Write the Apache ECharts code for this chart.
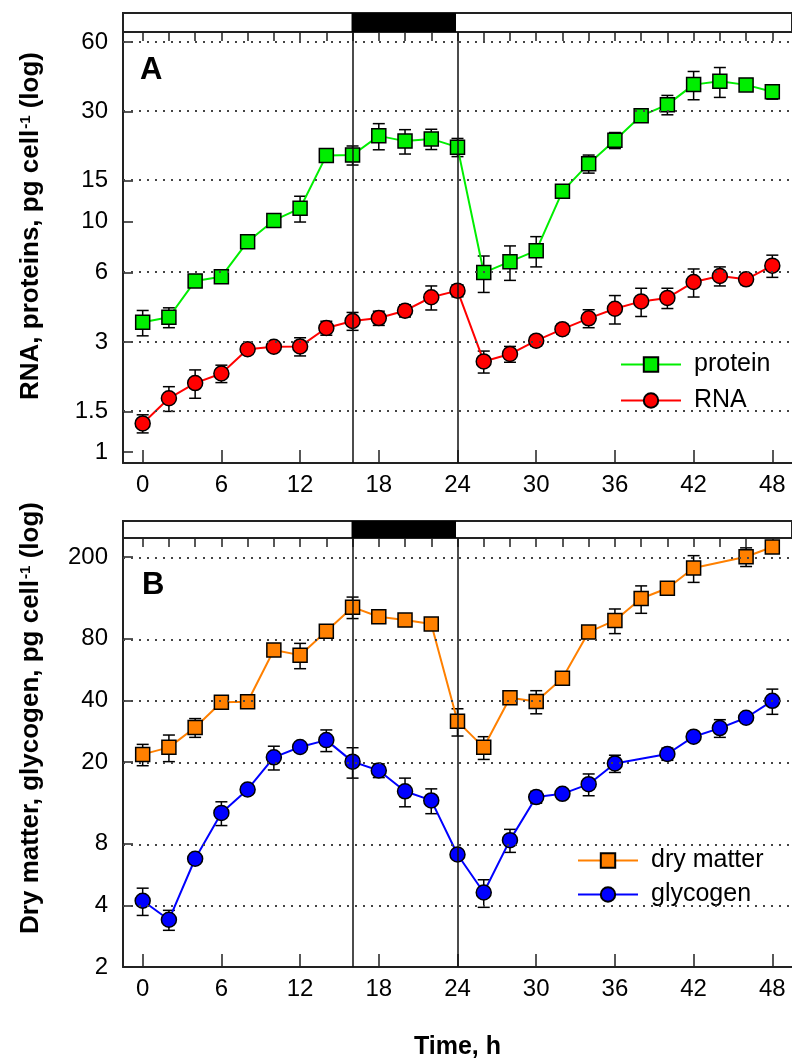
<!DOCTYPE html>
<html>
<head>
<meta charset="utf-8">
<script src="https://cdn.jsdelivr.net/npm/echarts@6/dist/echarts.min.js"></script>
<style>
html,body{margin:0;padding:0;background:#fff;}
#chart{width:792px;height:1061px;}
</style>
</head>
<body>
<div id="chart"></div>
<script>
// ---- data ----
const hours = [0,2,4,6,8,10,12,14,16,18,20,22,24,26,28,30,32,34,36,38,40,42,44,46,48];
const protein   = [3.65,3.84,5.52,5.76,8.17,10.1,11.4,19.3,19.4,23.5,22.3,22.8,21.0,6.0,6.69,7.47,13.5,17.8,22.5,28.7,32.1,39.2,40.5,39.1,36.5];
const proteinSD = [0.46,0.38,0.17,0.17,0.1,0.15,1.46,1.16,1.84,3.05,2.7,2.3,1.9,1.08,1.14,1.12,0.2,1.6,1.8,0.3,3.1,5.5,6.0,0.5,2.6];
const rna       = [1.33,1.71,1.99,2.19,2.79,2.86,2.87,3.45,3.70,3.81,4.10,4.69,5.01,2.47,2.66,3.04,3.41,3.80,4.18,4.50,4.66,5.46,5.80,5.61,6.43];
const rnaSD     = [0.12,0.21,0.28,0.19,0.11,0.11,0.26,0.24,0.33,0.27,0.25,0.56,0.3,0.27,0.21,0.15,0.17,0.34,0.59,0.63,0.47,0.76,0.55,0.28,0.71];
const dryMatter   = [21.8,23.6,29.5,39.2,39.4,70.5,66.5,86.9,114,102.4,98.6,94.3,31.6,23.6,41.2,39.5,51.3,86.2,98.2,125.6,141,177,null,201,224];
const dryMatterSD = [2.6,3.5,3.1,0.5,2.2,1,9.4,1.5,13.7,2,5.5,2,4.8,3.0,0.8,5.1,1,2,13.5,19.2,3,26.4,null,21,4];
const glycogen    = [4.21,3.40,6.75,11.3,14.7,21.1,23.7,25.6,20.1,18.2,14.4,13.0,7.08,4.62,8.32,13.5,14.0,15.6,19.7,null,21.9,26.6,29.3,32.9,39.8];
const glycogenSD  = [0.64,0.38,0.15,1.5,0.4,2.8,0.8,3.1,3.4,1.4,2.3,1.8,0.3,0.71,1.07,0.9,0.5,1.9,1.9,null,1.5,1,2.9,0.8,5.6];

const xMajorTicks = [0,6,12,18,24,30,36,42,48];
const xMinorTicks = [0,2,4,6,8,10,12,14,16,18,20,22,24,26,28,30,32,34,36,38,40,42,44,46,48];
const yTicksA = [1,1.5,3,6,10,15,30,60];
const yGridA  = [1.5,3,6,15,30,60];
const yTicksB = [2,4,8,20,40,80,200];
const yGridB  = [4,8,20,40,80,200];
const darkPeriod = [16,24];
const xRange = [-1.5, 49.5];
const yRangeA = [0.896, 66.3];
const yRangeB = [2, 248];

// ---- helpers ----
const L = Math.log10;
const FONT = "'Liberation Sans', Arial, sans-serif";
const PLOT_W = 669;                       // grid width in px (left 123 to right edge 792)
const stripMax = xRange[1] + 3 * (xRange[1]-xRange[0]) / PLOT_W; // strip grid runs 3px past the edge
function lineData(vals){ return hours.map((h,i)=>[h, vals[i]==null ? null : L(vals[i])]); }
function errData(vals, sd){
  const out = [];
  hours.forEach((h,i)=>{ if(vals[i]!=null){ out.push([h, L(vals[i]-sd[i]), L(vals[i]+sd[i])]); } });
  return out;
}
function renderErr(params, api){
  const x = api.value(0), lo = api.value(1), hi = api.value(2);
  const a = api.coord([x, lo]), b = api.coord([x, hi]);
  const hw = 6, st = {stroke:'#000', lineWidth:1.5};
  return {type:'group', children:[
    {type:'line', shape:{x1:a[0],y1:a[1],x2:b[0],y2:b[1]}, style:st},
    {type:'line', shape:{x1:a[0]-hw,y1:a[1],x2:a[0]+hw,y2:a[1]}, style:st},
    {type:'line', shape:{x1:b[0]-hw,y1:b[1],x2:b[0]+hw,y2:b[1]}, style:st}
  ]};
}
function renderDark(params, api){
  const cs = params.coordSys;
  const a = api.coord([api.value(0), 0]), b = api.coord([api.value(1), 0]);
  return {type:'rect', shape:{x:a[0], y:cs.y, width:b[0]-a[0], height:cs.height}, style:{fill:'#000'}};
}
function mainX(grid, name){
  return [{
    gridIndex:grid, type:'value', min:xRange[0], max:xRange[1],
    name:name||'', nameLocation:'middle', nameGap:68,
    nameTextStyle:{fontFamily:FONT, fontSize:25, fontWeight:'bold', color:'#000'},
    axisLine:{show:true, onZero:false, lineStyle:{color:'#222', width:2}},
    axisTick:{show:true, inside:true, length:13, customValues:xMajorTicks, lineStyle:{color:'#222', width:1.5}},
    axisLabel:{show:true, customValues:xMajorTicks, margin:10, fontFamily:FONT, fontSize:24, color:'#000'},
    splitLine:{show:false}
  },{
    gridIndex:grid, type:'value', min:xRange[0], max:xRange[1],
    axisLine:{show:false, onZero:false},
    axisTick:{show:true, inside:true, length:9, customValues:xMinorTicks, lineStyle:{color:'#222', width:1.5}},
    axisLabel:{show:false}, splitLine:{show:false}
  }];
}
function mainY(grid, range, ticks){
  const tv = ticks.map(L);
  return {
    gridIndex:grid, type:'value', min:L(range[0]), max:L(range[1]),
    axisLine:{show:true, onZero:false, lineStyle:{color:'#222', width:2}},
    axisTick:{show:true, inside:true, length:10, customValues:tv, lineStyle:{color:'#222', width:1.5}},
    axisLabel:{show:true, customValues:tv, margin:15, fontFamily:FONT, fontSize:24, color:'#000',
      formatter:(v)=>String(+Math.pow(10,v).toPrecision(3))},
    splitLine:{show:false}
  };
}
function guideLines(gridVals){
  return {
    silent:true, symbol:['none','none'], label:{show:false}, animation:false,
    data: gridVals.map(v=>({yAxis:L(v), lineStyle:{type:[2,6], color:'#444', width:2}}))
      .concat(darkPeriod.map(v=>({xAxis:v, lineStyle:{type:'solid', color:'#111', width:1.5}})))
  };
}
function lineSeries(name, vals, color, symbol, size, xi, yi){
  return {
    name, type:'line', xAxisIndex:xi, yAxisIndex:yi, data:lineData(vals), connectNulls:true,
    symbol, symbolSize:size, z:3,
    lineStyle:{color, width:2},
    itemStyle:{color, borderColor:'#000', borderWidth:1.5}
  };
}
function errSeries(vals, sd, xi, yi, marks){
  const s = {type:'custom', name:'err', xAxisIndex:xi, yAxisIndex:yi, data:errData(vals, sd),
    renderItem:renderErr, encode:{x:0, y:[1,2]}, z:2, silent:true};
  if(marks) s.markLine = marks;
  return s;
}

const chart = echarts.init(document.getElementById('chart'), null, {renderer:'canvas'});
const option = {
  animation:false,
  backgroundColor:'#fff',
  textStyle:{fontFamily:FONT},
  grid:[
    {left:123, right:0, top:32, height:431},
    {left:123, right:0, top:538, height:433},
    {left:123, right:-3, top:13, height:19, show:true, borderColor:'#222', borderWidth:2, backgroundColor:'#fff'},
    {left:123, right:-3, top:521, height:17, show:true, borderColor:'#222', borderWidth:2, backgroundColor:'#fff'}
  ],
  xAxis: [].concat(mainX(0), mainX(1,'Time, h'),
    [{gridIndex:2, type:'value', min:xRange[0], max:stripMax, show:false},
     {gridIndex:3, type:'value', min:xRange[0], max:stripMax, show:false}]),
  yAxis:[
    mainY(0, yRangeA, yTicksA),
    mainY(1, yRangeB, yTicksB),
    {gridIndex:2, type:'value', min:0, max:1, show:false},
    {gridIndex:3, type:'value', min:0, max:1, show:false}
  ],
  legend:[
    {data:['protein','RNA'], orient:'vertical', left:620, top:352, padding:0, itemWidth:60, itemHeight:18, itemGap:11,
     textStyle:{fontFamily:FONT, fontSize:25, color:'#000', padding:[0,0,0,8]}},
    {data:['dry matter','glycogen'], orient:'vertical', left:577, top:848, padding:0, itemWidth:60, itemHeight:18, itemGap:9,
     textStyle:{fontFamily:FONT, fontSize:25, color:'#000', padding:[0,0,0,8]}}
  ],
  series:[
    errSeries(protein, proteinSD, 0, 0, guideLines(yGridA)),
    errSeries(rna, rnaSD, 0, 0),
    lineSeries('protein', protein, '#00ee00', 'rect', 14, 0, 0),
    lineSeries('RNA', rna, '#ff0000', 'circle', 15, 0, 0),
    errSeries(dryMatter, dryMatterSD, 2, 1, guideLines(yGridB)),
    errSeries(glycogen, glycogenSD, 2, 1),
    lineSeries('dry matter', dryMatter, '#ff8000', 'rect', 14, 2, 1),
    lineSeries('glycogen', glycogen, '#0000ff', 'circle', 15, 2, 1),
    {type:'custom', name:'darkA', xAxisIndex:4, yAxisIndex:2, data:[darkPeriod], renderItem:renderDark, encode:{x:[0,1]}, silent:true},
    {type:'custom', name:'darkB', xAxisIndex:5, yAxisIndex:3, data:[darkPeriod], renderItem:renderDark, encode:{x:[0,1]}, silent:true}
  ],
  graphic:[
    {type:'text', left:140, top:55, style:{text:'A', font:"bold 31px 'Liberation Sans', Arial, sans-serif", fill:'#000'}},
    {type:'text', left:142, top:570, style:{text:'B', font:"bold 31px 'Liberation Sans', Arial, sans-serif", fill:'#000'}},
    {type:'text', x:31, y:226, rotation:Math.PI/2,
     style:{text:'RNA, proteins, pg cell{sup|-1} (log)', font:"bold 26px 'Liberation Sans', Arial, sans-serif", fill:'#000',
       align:'center', verticalAlign:'middle',
       rich:{sup:{fontSize:15, fontWeight:'bold', fontFamily:FONT, verticalAlign:'top', fill:'#000', padding:[0,0,0,1]}}}},
    {type:'text', x:31, y:718, rotation:Math.PI/2,
     style:{text:'Dry matter, glycogen, pg cell{sup|-1} (log)', font:"bold 26px 'Liberation Sans', Arial, sans-serif", fill:'#000',
       align:'center', verticalAlign:'middle',
       rich:{sup:{fontSize:15, fontWeight:'bold', fontFamily:FONT, verticalAlign:'top', fill:'#000', padding:[0,0,0,1]}}}}
  ]
};
chart.setOption(option);
</script>
</body>
</html>
